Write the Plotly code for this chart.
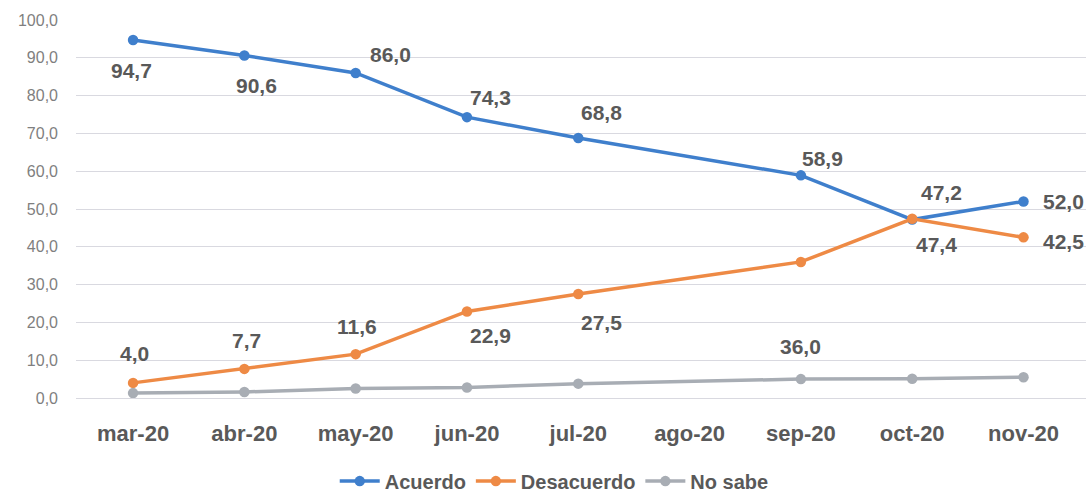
import plotly.graph_objects as go

months = ["mar-20", "abr-20", "may-20", "jun-20", "jul-20", "ago-20", "sep-20", "oct-20", "nov-20"]
acuerdo = [94.7, 90.6, 86.0, 74.3, 68.8, None, 58.9, 47.2, 52.0]
desacuerdo = [4.0, 7.7, 11.6, 22.9, 27.5, None, 36.0, 47.4, 42.5]
no_sabe = [1.3, 1.6, 2.5, 2.8, 3.8, None, 5.0, 5.1, 5.5]

# label offsets in pixels (style only)
acu_off = [(-2, -30), (12, -30), (35, 18), (24, 20), (23, 25), None, (22, 17), (29, 27), (40, 0)]
des_off = [(1, 29), (2, 28), (1, 28), (24, -24), (23, -28), None, (0, -85), (24, -26), (40, -4)]

BLUE = "#3F7FCC"
ORANGE = "#EE8A45"
GRAY = "#A8ADB4"
FONT = "Liberation Sans, Arial, sans-serif"
TXT = "#595959"

fig = go.Figure()
for name, vals, col in [("Acuerdo", acuerdo, BLUE), ("Desacuerdo", desacuerdo, ORANGE), ("No sabe", no_sabe, GRAY)]:
    fig.add_trace(go.Scatter(
        x=months, y=vals, name=name, mode="lines+markers", connectgaps=True,
        line=dict(color=col, width=3.5), marker=dict(color=col, size=10.5),
    ))

def fmt(v):
    return f"{v:.1f}".replace(".", ",")

for vals, offs in [(acuerdo, acu_off), (desacuerdo, des_off)]:
    for m, v, o in zip(months, vals, offs):
        if v is None:
            continue
        fig.add_annotation(x=m, y=v, xref="x", yref="y", text=fmt(v), showarrow=False,
                           xshift=o[0], yshift=o[1],
                           font=dict(family=FONT, size=21, color=TXT, weight="bold"))

fig.update_layout(
    width=1091, height=496,
    margin=dict(l=76, r=5, t=20, b=98),
    paper_bgcolor="white", plot_bgcolor="white",
    separators=",.",
    showlegend=True,
    legend=dict(orientation="h", x=0.508, xanchor="center", xref="container",
                y=0.03, yanchor="middle", yref="container",
                font=dict(family=FONT, size=20, color=TXT, weight="bold"),
                itemwidth=40, tracegroupgap=0),
    font=dict(family=FONT),
)
fig.update_xaxes(type="category", categoryorder="array", categoryarray=months,
                 showgrid=False, showline=False, zeroline=False, automargin=False,
                 tickfont=dict(family=FONT, size=22, color=TXT, weight="bold"),
                 ticklabelstandoff=20)
fig.update_yaxes(range=[0, 100], dtick=10, tickformat=".1f", automargin=False,
                 showgrid=True, gridcolor="#D9D9E0", gridwidth=1.2,
                 zeroline=True, zerolinecolor="#D9D9E0", zerolinewidth=1.2,
                 showline=False,
                 tickfont=dict(family=FONT, size=16, color="#7F7F7F"),
                 ticklabelstandoff=17)

fig.write_html("out.html", config={"displayModeBar": False},
               post_script="document.body.style.margin='0';document.body.style.overflow='hidden';")
